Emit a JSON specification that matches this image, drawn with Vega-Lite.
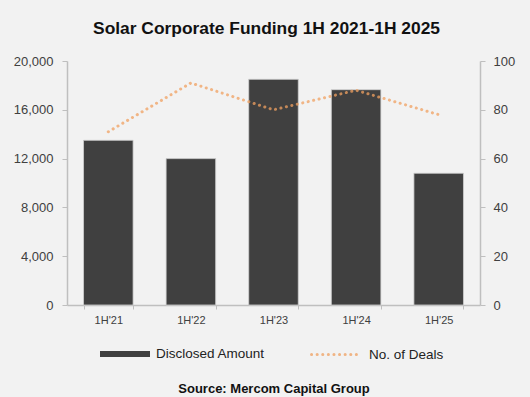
{
  "$schema": "https://vega.github.io/schema/vega-lite/v6.json",
  "width": 413,
  "height": 244,
  "autosize": {"type": "none"},
  "padding": {"left": 67, "top": 61, "right": 50, "bottom": 92},
  "background": "#F2F2F2",
  "config": {
    "view": {"stroke": null},
    "font": "Liberation Sans"
  },
  "title": {
    "text": "Solar Corporate Funding 1H 2021-1H 2025",
    "font": "Liberation Sans",
    "fontSize": 17.4,
    "fontWeight": "bold",
    "color": "#111111",
    "anchor": "middle",
    "baseline": "alphabetic",
    "offset": 4,
    "dx": -7
  },
  "data": {
    "values": [
      {"period": "1H'21", "amount": 13500, "deals": 71},
      {"period": "1H'22", "amount": 12000, "deals": 91},
      {"period": "1H'23", "amount": 18500, "deals": 80},
      {"period": "1H'24", "amount": 17650, "deals": 88},
      {"period": "1H'25", "amount": 10800, "deals": 78}
    ]
  },
  "encoding": {
    "x": {
      "field": "period",
      "type": "ordinal",
      "sort": null,
      "scale": {"paddingInner": 0.4, "paddingOuter": 0.2},
      "axis": {
        "title": "Source: Mercom Capital Group",
        "titleFont": "Liberation Sans",
        "titleFontSize": 13,
        "titleFontWeight": "bold",
        "titleColor": "#111111",
        "titlePadding": 57,
        "labelAngle": 0,
        "labelFontSize": 11,
        "labelColor": "#404040",
        "labelPadding": 5,
        "tickBand": "extent",
        "tickSize": 4,
        "tickColor": "#BFBFBF",
        "domainColor": "#BFBFBF",
        "domainWidth": 1.5
      }
    }
  },
  "layer": [
    {
      "mark": {"type": "bar", "stroke": "#D0D0D0", "strokeWidth": 0.8},
      "encoding": {
        "y": {
          "field": "amount",
          "type": "quantitative",
          "scale": {"domain": [0, 20000]},
          "axis": {
            "title": null,
            "values": [0, 4000, 8000, 12000, 16000, 20000],
            "format": ",.0f",
            "grid": false,
            "labelFontSize": 13,
            "labelColor": "#404040",
            "labelPadding": 9,
            "tickSize": 5,
            "tickColor": "#BFBFBF",
            "domainColor": "#BFBFBF",
            "domainWidth": 1.5
          }
        },
        "color": {
          "datum": "Disclosed Amount",
          "scale": {"range": ["#404040"]},
          "legend": {
            "orient": "none",
            "legendX": 33,
            "legendY": 268,
            "title": null,
            "padding": 0,
            "symbolType": "M-1,-0.12H1V0.12H-1Z",
            "symbolSize": 2500,
            "symbolStrokeWidth": 0,
            "labelFontSize": 13.5,
            "labelColor": "#222222",
            "labelOffset": 6
          }
        }
      }
    },
    {
      "mark": {"type": "line", "strokeDash": [0.1, 5.5], "strokeCap": "round", "strokeWidth": 3, "opacity": 0.75},
      "encoding": {
        "y": {
          "field": "deals",
          "type": "quantitative",
          "scale": {"domain": [0, 100]},
          "axis": {
            "orient": "right",
            "title": null,
            "values": [0, 20, 40, 60, 80, 100],
            "grid": false,
            "labelFontSize": 13,
            "labelColor": "#404040",
            "labelPadding": 8,
            "tickSize": 5,
            "tickColor": "#BFBFBF",
            "domainColor": "#BFBFBF",
            "domainWidth": 1.5
          }
        },
        "stroke": {
          "datum": "No. of Deals",
          "scale": {"range": ["#F0A060"]},
          "legend": {
            "orient": "none",
            "legendX": 243,
            "legendY": 268,
            "title": null,
            "padding": 0,
            "symbolType": "stroke",
            "symbolSize": 2300,
            "symbolStrokeWidth": 3,
            "symbolDash": [0.1, 5.5],
            "symbolOpacity": 0.75,
            "labelFontSize": 13.5,
            "labelColor": "#222222",
            "labelOffset": 8,
            "encode": {"symbols": {"update": {"strokeCap": {"value": "round"}}}}
          }
        }
      }
    }
  ],
  "resolve": {"scale": {"y": "independent"}}
}
